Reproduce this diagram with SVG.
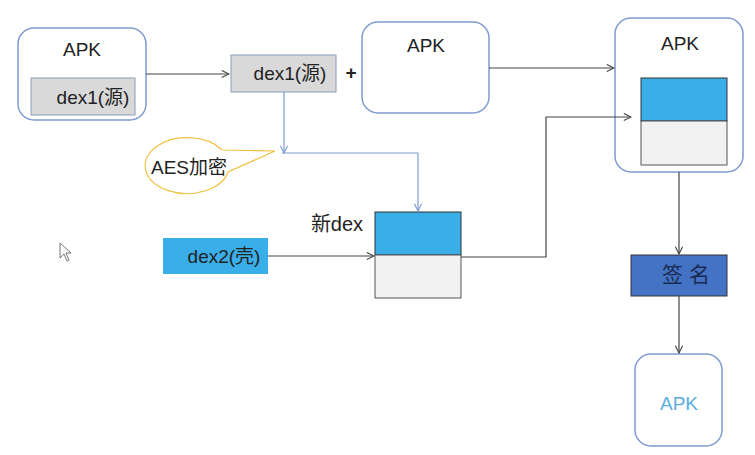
<svg xmlns="http://www.w3.org/2000/svg" width="755" height="455" viewBox="0 0 755 455">
<style>
text{font-family:"Liberation Sans","Noto Sans CJK SC",sans-serif;font-size:19px;fill:#222}
.apk{fill:#fff;stroke:#7f9bd0;stroke-width:1.5}
.grey{fill:#d9d9d9;stroke:#8a9bb8;stroke-width:1}
.blue{fill:#3aaee8;stroke:#333;stroke-width:1}
.light{fill:#f2f2f2;stroke:#555;stroke-width:1}
.c{fill:none;stroke:#444;stroke-width:1.2}
.cb{fill:none;stroke:#7f9bd0;stroke-width:1.2}
</style>
<defs>
<marker id="a" viewBox="0 0 10 10" refX="9" refY="5" markerWidth="9" markerHeight="9" orient="auto" markerUnits="userSpaceOnUse"><path d="M1,1 L9,5 L1,9" fill="none" stroke="#444" stroke-width="1.2"/></marker>
<marker id="ab" viewBox="0 0 10 10" refX="9" refY="5" markerWidth="9" markerHeight="9" orient="auto" markerUnits="userSpaceOnUse"><path d="M1,1 L9,5 L1,9" fill="none" stroke="#7f9bd0" stroke-width="1.2"/></marker>
</defs>
<rect width="755" height="455" fill="#fff"/>
<g id="apk1">
<rect class="apk" x="18" y="28" width="128" height="92" rx="16"/>
<text x="82" y="56" text-anchor="middle">APK</text>
<rect class="grey" x="31" y="78" width="104" height="37"/>
<text x="93" y="104" text-anchor="middle">dex1(源)</text>
</g>
<g id="dex1">
<rect class="grey" x="231" y="55" width="105" height="37"/>
<text x="290" y="80" text-anchor="middle">dex1(源)</text>
</g>
<g id="plus"><text x="351" y="79" text-anchor="middle" style="font-weight:bold">+</text></g>
<g id="apk2">
<rect class="apk" x="362" y="22" width="127" height="91" rx="16"/>
<text x="426" y="52" text-anchor="middle">APK</text>
</g>
<g id="apk3">
<rect class="apk" x="615" y="18" width="128" height="154" rx="16"/>
<text x="680" y="50" text-anchor="middle">APK</text>
<rect class="blue" x="641" y="78" width="86" height="43"/>
<rect class="light" x="641" y="121" width="86" height="44"/>
</g>
<g id="aes">
<path d="M222,150 L275,151 L228,172 A42,28 0 1 1 222,150 Z" fill="#fff" stroke="#f0c040" stroke-width="1.2"/>
<text x="189" y="174" text-anchor="middle">AES加密</text>
</g>
<g id="newdex">
<text x="337" y="231" text-anchor="middle" style="font-size:20px">新dex</text>
<rect class="blue" x="375" y="212" width="86" height="43"/>
<rect class="light" x="375" y="255" width="86" height="43"/>
</g>
<g id="dex2">
<rect x="163" y="238" width="105" height="36" fill="#3aaee8"/>
<text x="224" y="263" text-anchor="middle">dex2(壳)</text>
</g>
<g id="sign">
<rect x="631" y="255" width="96" height="41" fill="#4472c4" stroke="#333" stroke-width="1"/>
<text x="686" y="282" text-anchor="middle" style="fill:#1a2a50;font-size:21px">签 名</text>
</g>
<g id="apk4">
<rect class="apk" x="635" y="354" width="87" height="92" rx="16"/>
<text x="679" y="410" text-anchor="middle" style="fill:#5aaee0">APK</text>
</g>
<g id="connectors">
<path class="c" d="M146,74 H229" marker-end="url(#a)"/>
<path class="c" d="M489,68 H614" marker-end="url(#a)"/>
<path class="cb" d="M284,92 V153" marker-end="url(#ab)"/>
<path class="cb" d="M282,153 H418 V211" marker-end="url(#ab)"/>
<path class="c" d="M268,256 H374" marker-end="url(#a)"/>
<path class="c" d="M461,257 H546 V117 H631" marker-end="url(#a)"/>
<path class="c" d="M679,172 V254" marker-end="url(#a)"/>
<path class="c" d="M679,296 V353" marker-end="url(#a)"/>
</g>
<path d="M60,243 L60,258 L64,254 L67,261 L69,260 L66,253 L71,253 Z" fill="#fff" stroke="#555" stroke-width="0.8"/>
</svg>
